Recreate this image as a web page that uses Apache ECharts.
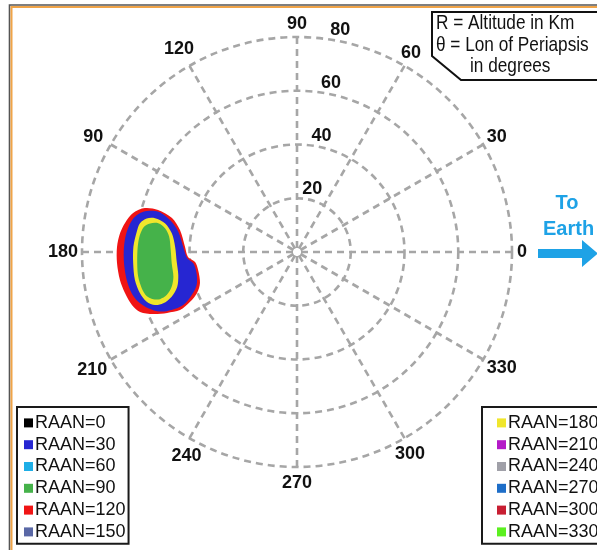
<!DOCTYPE html>
<html><head><meta charset="utf-8">
<script src="https://cdn.jsdelivr.net/npm/echarts@6/dist/echarts.min.js"></script>
<style>html,body{margin:0;padding:0;background:#fff}#c{width:597px;height:550px}</style>
</head><body><div id="c"></div>
<script>
// Angle-axis tick labels (note: the original labels the 150° spoke "90")
const angleTickLabels = ['0','30','60','90','120','90','180','210','240','270','300','330'];
// Radius-axis tick labels (altitude, km)
const radiusTickLabels = ['', '20', '40', '60', '80'];

const raanNames = ['RAAN=0','RAAN=30','RAAN=60','RAAN=90','RAAN=120','RAAN=150',
                   'RAAN=180','RAAN=210','RAAN=240','RAAN=270','RAAN=300','RAAN=330'];
const raanColors = ['#000000','#2626d2','#1eaee6','#45b24a','#f01414','#5a68a6',
                    '#f0e62c','#b41ac8','#a0a0a8','#1e6ec8','#c81e32','#5cf020'];

// Region outlines, [altitude km, lon of periapsis deg]
const raan120 = [[58.9,163.9],[54.0,163.2],[48.2,164.8],[44.3,169.4],[41.7,177.4],[40.6,182.6],[38.1,185.6],[37.4,190.3],[37.9,197.7],[40.2,202.3],[43.9,205.0],[48.6,206.4],[53.4,205.1],[58.3,203.3],[62.5,200.9],[64.5,197.8],[65.8,193.4],[66.7,189.0],[67.1,183.5],[67.0,178.4],[66.2,173.9],[64.9,170.4],[62.7,166.6]];
const raan30 = [[59.1,165.3],[53.7,163.8],[48.7,165.9],[44.8,170.3],[42.4,177.3],[40.9,183.3],[38.8,186.2],[38.2,192.0],[39.3,198.2],[42.3,202.2],[46.7,205.0],[51.4,204.8],[55.6,203.5],[59.2,200.7],[61.9,197.4],[63.4,194.0],[64.2,189.3],[64.5,183.7],[64.4,178.2],[63.8,173.2],[62.2,168.4]];
const raan180 = [[57.3,167.4],[54.3,166.6],[50.3,167.7],[47.1,171.5],[45.4,177.5],[44.9,184.6],[45.0,191.0],[46.4,196.2],[49.5,199.6],[53.3,201.0],[56.4,200.5],[58.9,198.3],[60.4,194.7],[61.2,189.8],[61.1,183.9],[60.9,178.1],[60.1,172.8],[59.4,169.6]];
const raan90 = [[55.7,169.0],[52.7,168.3],[49.9,169.8],[47.9,173.2],[47.0,179.1],[46.8,185.2],[46.9,191.3],[48.4,195.5],[51.1,198.3],[53.9,199.0],[56.3,198.2],[58.3,196.3],[59.3,193.2],[59.8,188.8],[59.6,184.0],[59.3,178.1],[58.8,173.8],[57.7,170.6]];

const regionData = { 'RAAN=120': raan120, 'RAAN=30': raan30, 'RAAN=180': raan180, 'RAAN=90': raan90 };
const drawOrder = ['RAAN=120','RAAN=30','RAAN=180','RAAN=90'];

const FONT = "'Liberation Sans',Arial,sans-serif";
const gridLine = { type: [7, 5], color: '#a6a6a6', width: 2.6 };

function makeRender(outline) {
  return function (params, api) {
    if (params.dataIndex !== 0) return null;
    const pts = outline.map(p => api.coord(p));
    return { type: 'polygon', shape: { points: pts, smooth: 0.3 }, style: { fill: api.visual('color') } };
  };
}

const series = raanNames.map((name, i) => {
  const outline = regionData[name] || [];
  const order = drawOrder.indexOf(name);
  return {
    type: 'custom', name: name, coordinateSystem: 'polar', polarIndex: 0,
    itemStyle: { color: raanColors[i] },
    data: outline, renderItem: makeRender(outline),
    z: 3 + Math.max(order, 0), silent: true, animation: false
  };
});

const legendBase = {
  orient: 'vertical', icon: 'rect', itemWidth: 9, itemHeight: 9, itemGap: 0,
  selectedMode: false, borderColor: '#1a1a1a', borderWidth: 2, backgroundColor: '#fff',
  textStyle: { fontFamily: FONT, fontSize: 18, color: '#111', lineHeight: 21.8, padding: [0,0,0,-3] }
};

// per-label nudges (rich padding [top, right, bottom, left]) for the angle labels
const labelStyle = { fontFamily: FONT, fontSize: 18, fontWeight: 'bold', color: '#111' };
const angleLabelPad = [
  [0, 0, 0, 1], [0, 0, -4, 0], [0, 0, 0, -5.5], [0, 0, 0, 0],
  [0, -6.5, 4, 0], [0, 4, -3.5, 0], [0, 0, 0, 0], [0, 0, 0, 0],
  [5, -14, 0, 0], [3, 0, 0, 0], [3, 0, 0, -11.5], [-2.5, 0, 0, 0]
];
const angleRich = {};
angleLabelPad.forEach((p, i) => { angleRich['a' + i] = Object.assign({ padding: p }, labelStyle); });

const chart = echarts.init(document.getElementById('c'), null, { renderer: 'canvas' });
chart.setOption({
  animation: false,
  backgroundColor: '#fff',
  polar: [
    { center: [297, 252], radius: 215 },
    { center: [297, 252], radius: 215 }
  ],
  angleAxis: [
    { polarIndex: 0, type: 'value', min: 0, max: 360, interval: 30, startAngle: 0, clockwise: false,
      axisLine: { show: false }, axisTick: { show: false },
      splitLine: { show: true, lineStyle: gridLine },
      axisLabel: Object.assign({ margin: 4,
        formatter: function (v) {
          const i = Math.round(v / 30); const t = angleTickLabels[i] || '';
          if (!t) return '';
          return '{a' + i + '|' + t + '}';
        },
        rich: angleRich }, labelStyle) },
    { polarIndex: 1, type: 'value', min: 0, max: 360, startAngle: 80, clockwise: false,
      axisLine: { show: false }, axisTick: { show: false }, splitLine: { show: false }, axisLabel: { show: false } }
  ],
  radiusAxis: [
    { polarIndex: 0, type: 'value', min: 0, max: 80, interval: 20,
      axisLine: { show: false }, axisTick: { show: false }, axisLabel: { show: false },
      splitLine: { show: true, lineStyle: gridLine } },
    { polarIndex: 1, type: 'value', min: 0, max: 80, interval: 20,
      axisLine: { show: false }, axisTick: { show: false }, splitLine: { show: false },
      axisLabel: Object.assign({ margin: -6, align: 'center', verticalAlign: 'bottom', padding: [0, 0, 2, 0],
        formatter: function (v) { return radiusTickLabels[Math.round(v / 20)] || ''; } }, labelStyle) }
  ],
  legend: [
    Object.assign({}, legendBase, { data: raanNames.slice(0, 6), left: 17, top: 407, padding: [5, 3, 1, 7] }),
    Object.assign({}, legendBase, { data: raanNames.slice(6), left: 482, top: 407, padding: [5, 20, 1, 15] })
  ],
  series: series,
  graphic: [
    { type: 'rect', shape: { x: 9.5, y: 5, width: 700, height: 700 }, style: { fill: 'none', stroke: '#555', lineWidth: 1.6 }, z: 100, silent: true },
    { type: 'rect', shape: { x: 11.5, y: 7, width: 700, height: 700 }, style: { fill: 'none', stroke: '#f0a448', lineWidth: 2 }, z: 100, silent: true },
    { type: 'polygon', shape: { points: [[432, 12], [432, 56], [461, 80], [640, 80], [640, 12]] },
      style: { fill: '#fff', stroke: '#111', lineWidth: 2 }, z: 50, silent: true },
    { type: 'text', x: 436, y: 13, scaleX: 0.82, z: 51, silent: true,
      style: { text: 'R = Altitude in Km', font: '21px ' + FONT, fill: '#111', verticalAlign: 'top' } },
    { type: 'text', x: 436, y: 35, scaleX: 0.82, z: 51, silent: true,
      style: { text: 'θ = Lon of Periapsis', font: '21px ' + FONT, fill: '#111', verticalAlign: 'top' } },
    { type: 'text', x: 470, y: 56, scaleX: 0.82, z: 51, silent: true,
      style: { text: 'in degrees', font: '21px ' + FONT, fill: '#111', verticalAlign: 'top' } },
    { type: 'text', x: 567, y: 193, z: 51, silent: true,
      style: { text: 'To', font: 'bold 20px ' + FONT, fill: '#1ea2e6', align: 'center', verticalAlign: 'top' } },
    { type: 'text', x: 543, y: 219, z: 51, silent: true,
      style: { text: 'Earth', font: 'bold 20px ' + FONT, fill: '#1ea2e6', verticalAlign: 'top' } },
    { type: 'polygon', z: 51, silent: true,
      shape: { points: [[538, 249], [582, 249], [582, 240], [598, 253.5], [582, 267], [582, 258], [538, 258]] },
      style: { fill: '#1ea2e6' } }
  ]
});
</script>
</body></html>
